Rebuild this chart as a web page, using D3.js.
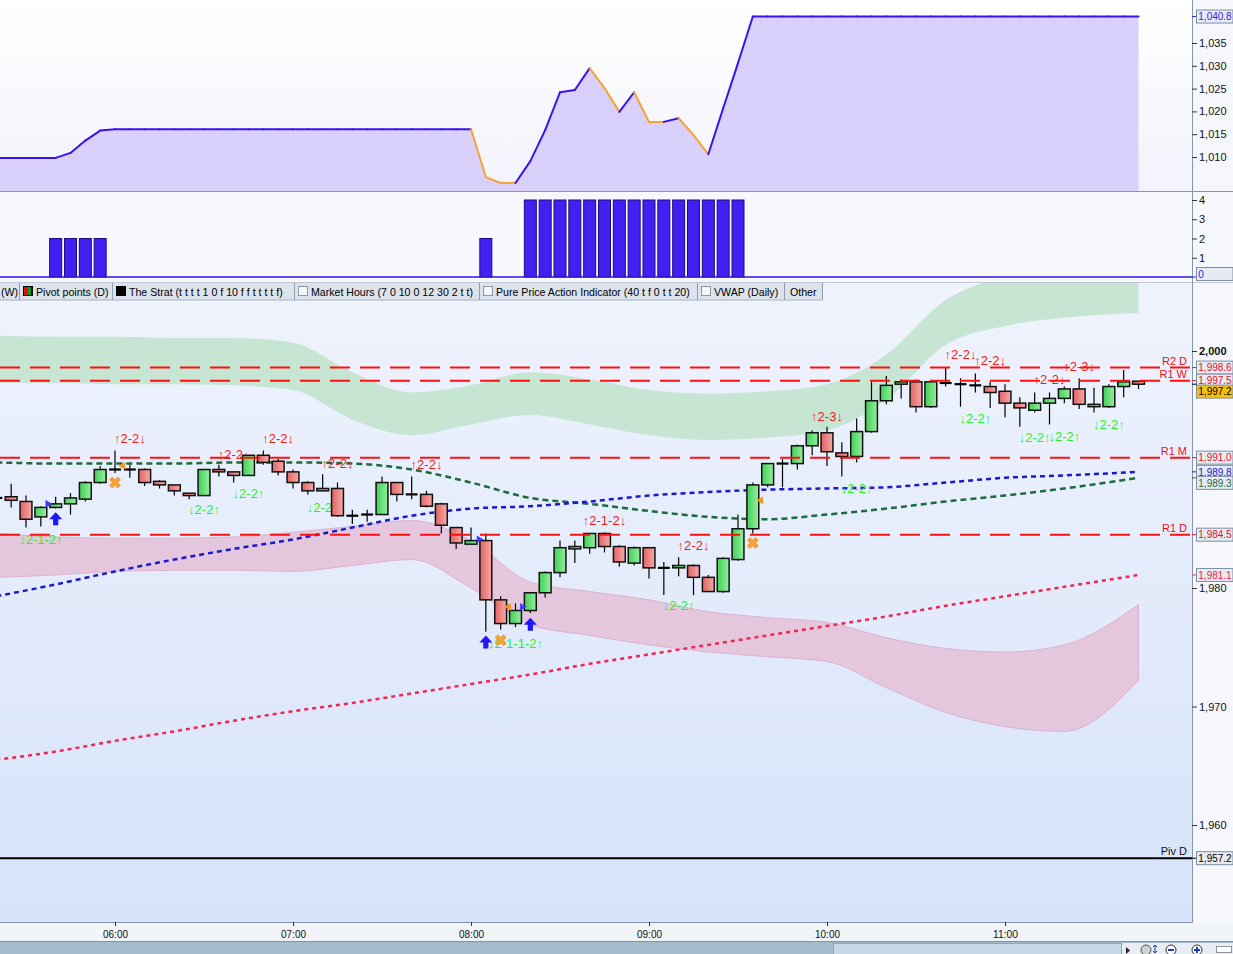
<!DOCTYPE html>
<html>
<head>
<meta charset="utf-8">
<script src="https://cdn.jsdelivr.net/npm/d3@7"></script>
<style>
  body { margin: 0; background: #fff; }
  svg { display: block; font-family: "Liberation Sans", Arial, sans-serif; }
</style>
</head>
<body>
<svg id="chart" width="1233" height="954"></svg>
<script>
// ---------- data (5 minute bars, index 0 = 08:00) ----------
const firstBar = -32;
const opens = [1987.6,1987.7,1987.3,1986.0,1986.8,1987.1,1987.5,1988.9,1990.0,1990.0,1990.0,1989.0,1988.7,1988.0,1987.8,1990.0,1989.8,1989.5,1991.2,1990.7,1989.8,1988.9,1988.2,1988.4,1986.1,1986.2,1986.2,1988.9,1987.9,1987.9,1987.1,1985.1,
  1983.7,1984.0,1979.0,1977.0,1978.1,1979.6,1981.3,1983.3,1983.4,1984.6,1983.5,1982.1,1983.4,1981.7,1981.7,1981.9,1980.9,1979.7,1982.4,1985.0,1988.7,1990.5,1990.5,1992.0,1993.1,1991.4,1991.1,1993.2,1995.8,1997.2,1997.4,1995.3,
  1997.3,1997.2,1997.1,1997.0,1996.6,1995.6,1995.0,1995.6,1996.0,1996.8,1995.5,1995.3,1997.0,1997.45];
const highs = [1987.7,1988.8,1987.8,1986.9,1987.7,1988.0,1989.0,1990.3,1991.6,1990.4,1990.1,1989.1,1988.7,1988.0,1990.0,1990.4,1989.8,1991.2,1991.6,1990.9,1990.0,1989.0,1989.6,1988.9,1986.6,1986.6,1989.4,1988.9,1989.4,1988.2,1987.2,1985.1,
  1985.1,1984.6,1979.3,1978.7,1979.6,1981.4,1984.0,1984.0,1984.6,1984.7,1983.6,1983.5,1983.4,1982.2,1982.6,1982.0,1981.1,1982.6,1986.2,1988.9,1990.5,1990.9,1992.1,1993.3,1993.6,1992.3,1994.3,1997.4,1997.9,1997.6,1997.6,1997.5,
  1998.65,1997.7,1998.1,1997.4,1997.2,1996.1,1996.5,1996.5,1997.0,1997.7,1996.9,1997.2,1998.4,1997.45];
const lows = [1987.5,1986.8,1985.1,1985.2,1986.7,1986.2,1987.3,1988.8,1989.7,1989.3,1988.6,1988.4,1987.8,1987.5,1987.8,1989.4,1988.9,1989.5,1990.4,1989.5,1988.4,1987.9,1988.2,1986.0,1985.4,1985.6,1986.2,1987.3,1987.5,1986.8,1984.6,1983.3,
  1983.7,1976.3,1976.5,1976.7,1977.9,1979.2,1980.9,1982.1,1982.9,1983.0,1981.8,1981.9,1980.8,1979.4,1981.0,1979.4,1979.7,1979.6,1982.3,1984.6,1988.5,1988.5,1990.0,1991.2,1990.3,1989.4,1990.6,1993.1,1995.5,1996.0,1994.8,1995.2,
  1997.0,1995.3,1996.5,1995.2,1994.4,1993.6,1994.8,1993.8,1995.6,1995.1,1994.8,1995.2,1996.1,1996.8];
const closes = [1987.6,1987.4,1985.8,1986.8,1987.1,1987.6,1988.9,1990.0,1990.0,1990.0,1988.9,1988.7,1988.2,1987.8,1990.0,1989.8,1989.5,1991.2,1990.6,1989.8,1988.9,1988.2,1988.4,1986.1,1986.1,1986.2,1988.9,1987.9,1987.9,1986.9,1985.3,1983.8,
  1984.0,1979.0,1977.0,1978.1,1979.6,1981.3,1983.4,1983.5,1984.6,1983.5,1982.2,1983.4,1981.7,1981.7,1981.9,1980.9,1979.7,1982.5,1985.0,1988.7,1990.5,1990.5,1992.0,1993.1,1991.5,1991.1,1993.2,1995.8,1997.1,1997.4,1995.3,1997.4,
  1997.3,1997.2,1997.1,1996.5,1995.6,1995.2,1995.6,1996.0,1996.8,1995.5,1995.3,1997.0,1997.4,1997.2];

// upper panel oscillator (one value per bar)
const topLine = [1009.8,1009.8,1009.8,1009.8,1009.8,1010.9,1013.6,1015.8,
  1016.1,1016.1,1016.1,1016.1,1016.1,1016.1,1016.1,1016.1,1016.1,1016.1,1016.1,1016.1,1016.1,1016.1,1016.1,1016.1,1016.1,1016.1,1016.1,1016.1,1016.1,1016.1,1016.1,1016.1,1016.1,
  1005.6,1004.3,1004.3,1009.1,1015.9,1024.2,1024.7,1029.5,1025.1,1019.9,1024.2,1017.7,1017.7,1018.5,1014.8,1010.6,1020.7,1030.6,
  1040.8,1040.8,1040.8,1040.8,1040.8,1040.8,1040.8,1040.8,1040.8,1040.8,1040.8,1040.8,1040.8,1040.8,1040.8,1040.8,1040.8,1040.8,1040.8,1040.8,1040.8,1040.8,1040.8,1040.8,1040.8,1040.8,1040.8];
// middle panel histogram (one value per bar)
const midBars = [0,0,0,0,2,2,2,2,
  0,0,0,0,0,0,0,0,0,0,0,0,0,0,0,0,0,0,0,0,0,0,0,0,0,
  2,0,0,4,4,4,4,4,4,4,4,4,4,4,4,4,4,4,
  0,0,0,0,0,0,0,0,0,0,0,0,0,0,0,0,0,0,0,0,0,0,0,0,0,0,0];

// moving averages and bands, read at every 4th bar
const curveIdx = [-32,-28,-24,-20,-16,-12,-8,-4,0,4,8,12,16,20,24,28,32,36,40,45];
const greenMA = [1990.6,1990.5,1990.5,1990.5,1990.6,1990.6,1990.5,1990.0,1988.9,1987.6,1987.1,1986.5,1986.0,1985.8,1986.2,1986.7,1987.3,1987.8,1988.4,1989.3];
const blueMA  = [1979.3,1980.3,1981.4,1982.4,1983.3,1984.1,1985.1,1986.1,1986.7,1986.9,1987.3,1987.8,1988.1,1988.3,1988.4,1988.5,1988.9,1989.3,1989.5,1989.8];
const redMA   = [1965.5,1966.2,1967.1,1967.9,1968.8,1969.6,1970.3,1971.1,1971.9,1972.7,1973.6,1974.4,1975.2,1976.0,1976.8,1977.6,1978.5,1979.3,1980.1,1981.1];
const greenUpper = [2001.3,2001.2,2001.2,2001.1,2001.1,2000.7,1998.2,1996.5,1997.1,1998.2,1997.6,1996.7,1996.4,1996.6,1997.2,1999.7,2004.3,2006.2,2006.7,2007.0];
const greenLower = [1997.3,1997.3,1997.2,1997.2,1997.1,1996.7,1994.2,1992.9,1993.8,1994.6,1993.8,1992.9,1992.5,1992.7,1993.3,1995.9,2000.5,2002.1,2002.8,2003.2];
const pinkUpper = [1984.6,1984.3,1984.2,1984.2,1984.3,1984.7,1985.2,1985.7,1984.0,1980.5,1979.7,1979.0,1978.0,1977.5,1977.1,1975.8,1974.9,1974.6,1975.2,1978.6];
const pinkLower = [1980.9,1981.1,1981.4,1981.5,1981.5,1981.4,1981.9,1982.4,1980.0,1976.9,1976.0,1975.2,1974.6,1974.2,1973.8,1971.6,1969.5,1968.3,1967.9,1972.2];

const pivots = [
  { name: "R2 D", value: 1998.6, color: "#ff1010" },
  { name: "R1 W", value: 1997.5, color: "#ff1010" },
  { name: "R1 M", value: 1991.0, color: "#ff1010" },
  { name: "R1 D", value: 1984.5, color: "#ff1010" },
  { name: "Piv D", value: 1957.2, color: "#000000" }
];

// strat annotations
const stratUp = [
  { i: -23, p: 1992.6, t: "↑2-2↓" }, { i: -16, p: 1991.3, t: "↑2-2↓" }, { i: -13, p: 1992.6, t: "↑2-2↓" },
  { i: -9, p: 1990.5, t: "↑2-2↓" }, { i: -3, p: 1990.4, t: "↑2-2↓" }, { i: 9, p: 1985.7, t: "↑2-1-2↓" },
  { i: 15, p: 1983.6, t: "↑2-2↓" }, { i: 24, p: 1994.5, t: "↑2-3↓" }, { i: 33, p: 1999.7, t: "↑2-2↓" },
  { i: 35, p: 1999.2, t: "↑2-2↓" }, { i: 39, p: 1997.6, t: "↑2-2↓" }, { i: 41, p: 1998.7, t: "↑2-3↓" }
];
const stratDown = [
  { i: -29, p: 1984.1, t: "↓2-1-2↑" }, { i: -18, p: 1986.6, t: "↓2-2↑" }, { i: -15, p: 1988.0, t: "↓2-2↑" },
  { i: -10, p: 1986.8, t: "↓2-2↑" }, { i: 3, p: 1975.3, t: "↓2-1-1-2↑" }, { i: 14, p: 1978.5, t: "↓2-2↑" },
  { i: 26, p: 1988.4, t: "↓2-2↑" }, { i: 34, p: 1994.3, t: "↓2-2↑" }, { i: 38, p: 1992.7, t: "↓2-2↑" },
  { i: 40, p: 1992.8, t: "↓2-2↑" }, { i: 43, p: 1993.8, t: "↓2-2↑" }
];
const upArrows = [{ i: -28, p: 1985.8 }, { i: 1, p: 1975.4 }, { i: 4, p: 1976.9 }];
const crossMarks = [{ i: -24, p: 1988.9 }, { i: 2, p: 1975.6 }, { i: 19, p: 1983.8 }];
const flagMarks = [
  { i: -28, p: 1987.1, side: -1, kind: "blue" }, { i: 0, p: 1984.1, side: 1, kind: "blue" },
  { i: 4, p: 1978.4, side: -1, kind: "blue" }, { i: -24, p: 1990.3, side: 1, kind: "orange" },
  { i: 2, p: 1978.4, side: 1, kind: "orange" }, { i: 19, p: 1987.4, side: 1, kind: "orange" }
];

const legendItems = [
  { x: 1, text: "(W)", sep: 19 },
  { x: 36, text: "Pivot points (D)", box: "pivot", sep: 112 },
  { x: 129, text: "The Strat (t t t t 1 0 f 10 f f t t t t f)", box: "black", sep: 294 },
  { x: 311, text: "Market Hours (7 0 10 0 12 30 2 t t)", box: "check", sep: 479 },
  { x: 496, text: "Pure Price Action Indicator (40 t f 0 t t 20)", box: "check", sep: 697 },
  { x: 714, text: "VWAP (Daily)", box: "check", sep: 784 },
  { x: 790, text: "Other", sep: 822 }
];

// ---------- layout ----------
const svg = d3.select("#chart");
const plotR = 1192;
const at = (h, m) => new Date(2024, 0, 2, h, m);
const barTime = i => d3.timeMinute.offset(at(8, 0), 5 * i);

const x = d3.scaleTime().domain([at(6, 0), at(11, 0)]).range([115, 1005]);
const yTop = d3.scaleLinear().domain([1010, 1035]).range([157, 43]);
const yMid = d3.scaleLinear().domain([0, 4]).range([277, 200]);
const yMain = d3.scaleLinear().domain([1980, 2000]).range([588, 351]);

const bars = opens.map((o, k) => ({
  i: firstBar + k, t: barTime(firstBar + k),
  o, h: highs[k], l: lows[k], c: closes[k], top: topLine[k], mid: midBars[k]
}));
const barW = (x(barTime(1)) - x(barTime(0))) * 0.8;

const defs = svg.append("defs");
function vGrad(id, c0, c1) {
  const g = defs.append("linearGradient").attr("id", id).attr("x1", 0).attr("y1", 0).attr("x2", 0).attr("y2", 1);
  g.append("stop").attr("offset", 0).attr("stop-color", c0);
  g.append("stop").attr("offset", 1).attr("stop-color", c1);
}
function hGrad(id, c0, c1) {
  const g = defs.append("linearGradient").attr("id", id).attr("x1", 0).attr("y1", 0).attr("x2", 1).attr("y2", 0);
  g.append("stop").attr("offset", 0).attr("stop-color", c0);
  g.append("stop").attr("offset", 1).attr("stop-color", c1);
}
vGrad("bgTop", "#ffffff", "#f2f3fc");
vGrad("bgMain", "#eff3fd", "#d7e3fa");
hGrad("upBody", "#3fd257", "#98ec9f");
hGrad("dnBody", "#e26464", "#f5a9a9");

function clip(id, x0, y0, w, h) {
  defs.append("clipPath").attr("id", id).append("rect").attr("x", x0).attr("y", y0).attr("width", w).attr("height", h);
}
clip("cTop", 0, 0, plotR, 191);
clip("cMid", 0, 192, plotR, 90);
clip("cMain", 0, 283, plotR, 639);

// backgrounds
svg.append("rect").attr("width", 1233).attr("height", 954).attr("fill", "#f6f7fc");
svg.append("rect").attr("x", 0).attr("y", 0).attr("width", plotR).attr("height", 191).attr("fill", "url(#bgTop)");
svg.append("rect").attr("x", 0).attr("y", 192).attr("width", plotR).attr("height", 90).attr("fill", "#f6f8fd");
svg.append("rect").attr("x", 0).attr("y", 283).attr("width", plotR).attr("height", 639).attr("fill", "url(#bgMain)");
svg.append("rect").attr("x", 0).attr("y", 923).attr("width", 1233).attr("height", 18).attr("fill", "#f1f4f9");

// ---------- top panel ----------
const gTop = svg.append("g").attr("clip-path", "url(#cTop)");
gTop.append("path").datum(bars)
  .attr("fill", "#d9d1fc")
  .attr("d", d3.area().x(d => x(d.t)).y0(191).y1(d => yTop(d.top)));
let rising = true;
for (let k = 1; k < bars.length; k++) {
  const a = bars[k - 1], b = bars[k];
  if (b.top > a.top) rising = true; else if (b.top < a.top) rising = false;
  gTop.append("line")
    .attr("x1", x(a.t)).attr("y1", yTop(a.top)).attr("x2", x(b.t)).attr("y2", yTop(b.top))
    .attr("stroke", rising ? "#3a12ee" : "#f7a331").attr("stroke-width", 2).attr("stroke-linecap", "round");
}

// ---------- middle panel ----------
const gMid = svg.append("g").attr("clip-path", "url(#cMid)");
gMid.selectAll("rect.bar").data(bars.filter(d => d.mid > 0)).join("rect")
  .attr("x", d => x(d.t) - 6).attr("width", 12)
  .attr("y", d => yMid(d.mid)).attr("height", d => yMid(0) - yMid(d.mid))
  .attr("fill", "#4121f2").attr("stroke", "#1c0c86").attr("stroke-width", 1);
gMid.append("line").attr("x1", 0).attr("x2", plotR).attr("y1", yMid(0)).attr("y2", yMid(0))
  .attr("stroke", "#3414e0").attr("stroke-width", 1.5);

// ---------- main panel ----------
const gMain = svg.append("g").attr("clip-path", "url(#cMain)");
const curvePts = curveIdx.map((i, k) => ({
  t: barTime(i), gMA: greenMA[k], bMA: blueMA[k], rMA: redMA[k],
  gU: greenUpper[k], gL: greenLower[k], pU: pinkUpper[k], pL: pinkLower[k]
}));
const band = (u, l) => d3.area().curve(d3.curveMonotoneX).x(d => x(d.t)).y0(d => yMain(d[l])).y1(d => yMain(d[u]));
gMain.append("path").datum(curvePts).attr("fill", "#c6e5d2").attr("d", band("gU", "gL"));
gMain.append("path").datum(curvePts).attr("fill", "#e4c6dd").attr("stroke", "#dbb3cf").attr("stroke-width", 1).attr("d", band("pU", "pL"));

const maLine = key => d3.line().curve(d3.curveMonotoneX).x(d => x(d.t)).y(d => yMain(d[key]));
[["gMA", "#1d6a3c", "6,4"], ["bMA", "#1b19cf", "5,4"], ["rMA", "#f22650", "4,4"]].forEach(([k, col, dash]) => {
  gMain.append("path").datum(curvePts).attr("fill", "none").attr("stroke", col)
    .attr("stroke-width", 2.5).attr("stroke-dasharray", dash).attr("d", maLine(k));
});

// labels sit under the candles
const stratFont = 13;
gMain.selectAll("text.su").data(stratUp).join("text")
  .attr("x", d => x(barTime(d.i))).attr("y", d => yMain(d.p) + 4.5)
  .attr("text-anchor", "middle").attr("font-size", stratFont).attr("fill", "#f41b1b").text(d => d.t);
gMain.selectAll("text.sd").data(stratDown).join("text")
  .attr("x", d => x(barTime(d.i))).attr("y", d => yMain(d.p) + 4.5)
  .attr("text-anchor", "middle").attr("font-size", stratFont).attr("fill", "#26f226").text(d => d.t);

// candles
const gC = gMain.append("g");
gC.selectAll("line.wick").data(bars).join("line")
  .attr("x1", d => x(d.t)).attr("x2", d => x(d.t))
  .attr("y1", d => yMain(d.h)).attr("y2", d => yMain(d.l))
  .attr("stroke", "#000").attr("stroke-width", 1.2);
gC.selectAll("rect.body").data(bars.filter(d => d.o !== d.c)).join("rect")
  .attr("x", d => x(d.t) - barW / 2).attr("width", barW)
  .attr("y", d => yMain(Math.max(d.o, d.c)))
  .attr("height", d => Math.max(2, Math.abs(yMain(d.o) - yMain(d.c))))
  .attr("fill", d => d.c > d.o ? "url(#upBody)" : "url(#dnBody)")
  .attr("stroke", "#111").attr("stroke-width", 1.5);
gC.selectAll("line.doji").data(bars.filter(d => d.o === d.c)).join("line")
  .attr("x1", d => x(d.t) - barW / 2).attr("x2", d => x(d.t) + barW / 2)
  .attr("y1", d => yMain(d.o)).attr("y2", d => yMain(d.o))
  .attr("stroke", "#000").attr("stroke-width", 2.2);

// pivot lines
pivots.forEach(pv => {
  gMain.append("line").attr("x1", 0).attr("x2", plotR).attr("y1", yMain(pv.value)).attr("y2", yMain(pv.value))
    .attr("stroke", pv.color).attr("stroke-width", 2)
    .attr("stroke-dasharray", pv.name === "Piv D" ? null : "20,10");
  gMain.append("text").attr("x", 1187).attr("y", yMain(pv.value) - 3).attr("text-anchor", "end")
    .attr("font-size", 11).attr("fill", pv.color === "#000000" ? "#111" : "#e8101a").text(pv.name);
});

// markers
const arrowPath = "M0,-7 L6.5,0 L2.6,0 L2.6,6 L-2.6,6 L-2.6,0 L-6.5,0 Z";
gMain.selectAll("path.arrow").data(upArrows).join("path")
  .attr("transform", d => `translate(${x(barTime(d.i))},${yMain(d.p)})`)
  .attr("d", arrowPath).attr("fill", "#1f17f5");
gMain.selectAll("path.cross").data(crossMarks).join("path")
  .attr("transform", d => `translate(${x(barTime(d.i))},${yMain(d.p)}) rotate(45)`)
  .attr("d", d3.symbol(d3.symbolCross, 75)).attr("fill", "#f7a035").attr("stroke", "#f08a1a").attr("stroke-width", 0.6);
gMain.selectAll("path.flag").data(flagMarks).join("path")
  .attr("transform", d => `translate(${x(barTime(d.i)) + d.side * 8},${yMain(d.p)}) rotate(${d.kind === "blue" ? 90 : -90})`)
  .attr("d", d3.symbol(d3.symbolTriangle, 26))
  .attr("fill", d => d.kind === "blue" ? "#3b3bf5" : "#f09a20");

// ---------- legend bar ----------
const gLeg = svg.append("g");
gLeg.append("rect").attr("x", 0).attr("y", 283).attr("width", 822).attr("height", 17).attr("fill", "#dde3ec");
gLeg.append("line").attr("x1", 0).attr("x2", 822).attr("y1", 300).attr("y2", 300).attr("stroke", "#a5b2c2");
legendItems.forEach(it => {
  if (it.box === "pivot") {
    gLeg.append("rect").attr("x", 23).attr("y", 286).attr("width", 10).attr("height", 10).attr("fill", "#000");
    gLeg.append("rect").attr("x", 24).attr("y", 287).attr("width", 4).attr("height", 8).attr("fill", "#e0101a");
    gLeg.append("rect").attr("x", 28).attr("y", 287).attr("width", 3).attr("height", 8).attr("fill", "#0b9a1a");
  } else if (it.box === "black") {
    gLeg.append("rect").attr("x", it.x - 13).attr("y", 286).attr("width", 10).attr("height", 10).attr("fill", "#000");
  } else if (it.box === "check") {
    gLeg.append("rect").attr("x", it.x - 12.5).attr("y", 286.5).attr("width", 9).attr("height", 9)
      .attr("fill", "#f4f6f9").attr("stroke", "#8c98a6");
  }
  gLeg.append("text").attr("x", it.x).attr("y", 295.5).attr("font-size", 10.6).attr("fill", "#000").text(it.text);
  gLeg.append("line").attr("x1", it.sep + 0.5).attr("x2", it.sep + 0.5).attr("y1", 283).attr("y2", 300).attr("stroke", "#8d9cae");
});

// ---------- frames ----------
svg.append("line").attr("x1", 0).attr("x2", 1233).attr("y1", 191.5).attr("y2", 191.5).attr("stroke", "#8795a8");
svg.append("line").attr("x1", 0).attr("x2", 1233).attr("y1", 282.5).attr("y2", 282.5).attr("stroke", "#c0c9d6");
svg.append("line").attr("x1", 0).attr("x2", plotR).attr("y1", 922.5).attr("y2", 922.5).attr("stroke", "#8796a8");
svg.append("line").attr("x1", plotR + 0.5).attr("x2", plotR + 0.5).attr("y1", 0).attr("y2", 923).attr("stroke", "#8796a8");

// ---------- axes ----------
function styleAxis(g) {
  g.select(".domain").remove();
  g.selectAll(".tick line").attr("stroke", "#333");
  g.selectAll(".tick text").attr("fill", "#111").attr("font-size", 11).attr("font-family", "Liberation Sans, Arial, sans-serif");
}
svg.append("g").attr("transform", `translate(${plotR},0)`)
  .call(d3.axisRight(yTop).tickValues([1010, 1015, 1020, 1025, 1030, 1035]).tickSize(5).tickPadding(2).tickFormat(d3.format(",")))
  .call(styleAxis);
svg.append("g").attr("transform", `translate(${plotR},0)`)
  .call(d3.axisRight(yMid).tickValues([1, 2, 3, 4]).tickSize(5).tickPadding(2).tickFormat(d3.format("d")))
  .call(styleAxis);
svg.append("g").attr("transform", `translate(${plotR},0)`)
  .call(d3.axisRight(yMain).tickValues([1960, 1970, 1980, 2000]).tickSize(5).tickPadding(2).tickFormat(d3.format(",")))
  .call(styleAxis)
  .call(g => g.selectAll(".tick text").attr("font-weight", d => d === 2000 ? "bold" : null));

const xAxis = svg.append("g").attr("transform", "translate(0,922)")
  .call(d3.axisBottom(x).ticks(d3.timeHour.every(1)).tickSize(4).tickPadding(4).tickFormat(d3.timeFormat("%H:%M")))
  .call(styleAxis);
xAxis.selectAll(".tick text")
  .attr("textLength", 25).attr("lengthAdjust", "spacingAndGlyphs").attr("font-size", 11)
  .attr("display", d => x(d) > 1150 ? "none" : null);

// value boxes on the price scales
function valueBox(yPos, yTick, value, color, fill) {
  svg.append("line").attr("x1", plotR).attr("x2", plotR + 5).attr("y1", yTick).attr("y2", yTick).attr("stroke", color);
  svg.append("rect").attr("x", 1196.5).attr("y", yPos - 6.5).attr("width", 36.5).attr("height", 13)
    .attr("fill", fill).attr("stroke", "#7f8fa2");
  svg.append("text").attr("x", 1198.3).attr("y", yPos + 3.8).attr("font-size", 10).attr("fill", color).text(value);
}
valueBox(yTop(1040.8), yTop(1040.8), "1,040.8", "#3522e6", "#e5eaf3");
valueBox(yMid(0) - 3, yMid(0), "0", "#3522e6", "#e5eaf3");

const mainBoxes = [
  { v: 1998.6, col: "#e8102a", fill: "#e5eaf3" },
  { v: 1997.5, col: "#e8102a", fill: "#e5eaf3" },
  { v: 1997.2, col: "#000000", fill: "#f6c10e" },
  { v: 1991.0, col: "#e8102a", fill: "#e5eaf3" },
  { v: 1989.8, col: "#2020d0", fill: "#e5eaf3" },
  { v: 1989.3, col: "#1d6a3c", fill: "#e5eaf3" },
  { v: 1984.5, col: "#e8102a", fill: "#e5eaf3" },
  { v: 1981.1, col: "#f02050", fill: "#e5eaf3" },
  { v: 1957.2, col: "#000000", fill: "#e5eaf3" }
];
let lastY = -100;
mainBoxes.forEach(b => {
  const yt = yMain(b.v);
  const yp = Math.max(yt, lastY + 11);
  lastY = yp;
  valueBox(yp, yt, d3.format(",.1f")(b.v), b.col, b.fill);
});

// ---------- scroll bar ----------
svg.append("rect").attr("x", 0).attr("y", 941).attr("width", 1233).attr("height", 13).attr("fill", "#a3bbcb");
svg.append("line").attr("x1", 0).attr("x2", 1233).attr("y1", 941.5).attr("y2", 941.5).attr("stroke", "#7d95a8");
svg.append("rect").attr("x", 833.5).attr("y", 943.5).attr("width", 288).attr("height", 11).attr("fill", "#c6dbe7").attr("stroke", "#8ea7b9");
svg.append("rect").attr("x", 1122).attr("y", 943).attr("width", 111).attr("height", 11).attr("fill", "#e8edf3");
svg.append("path").attr("d", "M1126,947 L1130,950.5 L1126,954 Z").attr("fill", "#222");
svg.append("circle").attr("cx", 1146).attr("cy", 950).attr("r", 5).attr("fill", "#d0d0d0").attr("stroke", "#555");
svg.append("path").attr("d", "M1155,945 V953 M1153,947 L1155,945 L1157,947 M1153,951 L1155,953 L1157,951").attr("stroke", "#1a3ad8").attr("fill", "none");
svg.append("circle").attr("cx", 1171).attr("cy", 950).attr("r", 5).attr("fill", "#fff").attr("stroke", "#333");
svg.append("line").attr("x1", 1168).attr("x2", 1174).attr("y1", 950).attr("y2", 950).attr("stroke", "#1a3ad8").attr("stroke-width", 2);
svg.append("circle").attr("cx", 1197).attr("cy", 950).attr("r", 5).attr("fill", "#fff").attr("stroke", "#333");
svg.append("path").attr("d", "M1194,950 H1200 M1197,947 V953").attr("stroke", "#1a3ad8").attr("stroke-width", 2);
svg.append("rect").attr("x", 1216.5).attr("y", 946.5).attr("width", 15).attr("height", 6).attr("fill", "#fff").attr("stroke", "#333").attr("stroke-dasharray", "1,1");
</script>
</body>
</html>
